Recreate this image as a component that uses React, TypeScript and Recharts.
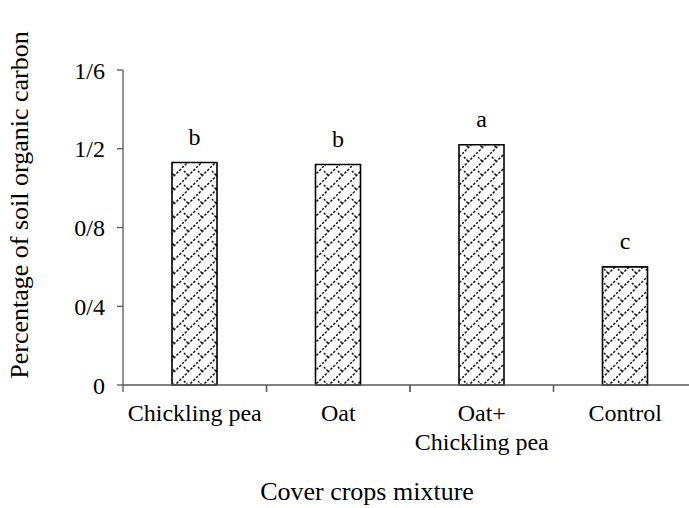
import React from "react";
import { BarChart, Bar, XAxis, YAxis, LabelList } from "recharts";

const categories = ["Chickling pea", "Oat", "Oat+\nChickling pea", "Control"];
const values = [1.13, 1.12, 1.22, 0.6];
const letters = ["b", "b", "a", "c"];
const yTicks = [0, 0.4, 0.8, 1.2, 1.6];
const yTickLabels = ["0", "0/4", "0/8", "1/2", "1/6"];
const yTitle = "Percentage of soil organic carbon";
const xTitle = "Cover crops mixture";

const data = categories.map((name, i) => ({ name, value: values[i], letter: letters[i] }));

const FONT = "'Liberation Serif', 'Times New Roman', serif";
const FS = 24;
const TITLE_FS = 26;
const CHART_W = 760;
const CHART_H = 508;
const Y_AXIS_W = 123;
const PLOT_W = 574;
const MARGIN = { top: 70, right: CHART_W - Y_AXIS_W - PLOT_W, bottom: 8, left: 0 };
const X_AXIS_H = 115;
const AXIS_COLOR = "#595959";
const BAND = PLOT_W / categories.length;

const XTick = (props: any) => {
  const { x, payload } = props;
  const axisY = CHART_H - MARGIN.bottom - X_AXIS_H;
  const lines = String(payload.value).split("\n");
  return (
    <g>
      <line x1={x - BAND / 2} x2={x - BAND / 2} y1={axisY} y2={axisY + 7} stroke={AXIS_COLOR} strokeWidth={1.3} />
      <line x1={x + BAND / 2} x2={x + BAND / 2} y1={axisY} y2={axisY + 7} stroke={AXIS_COLOR} strokeWidth={1.3} />
      {lines.map((l, i) => (
        <text key={i} x={x} y={axisY + 36 + i * 29} textAnchor="middle" fontFamily={FONT} fontSize={FS} fill="#000">
          {l}
        </text>
      ))}
    </g>
  );
};

const YLabel = () => (
  <text
    x={28}
    y={205}
    transform="rotate(-90 28 205)"
    textAnchor="middle"
    fontFamily={FONT}
    fontSize={TITLE_FS}
    fill="#000"
  >
    {yTitle}
  </text>
);

const XLabel = () => (
  <text x={367} y={500} textAnchor="middle" fontFamily={FONT} fontSize={TITLE_FS} fill="#000">
    {xTitle}
  </text>
);

export default function App() {
  return (
    <div style={{ position: "absolute", left: 0, top: 0, width: 689, height: 508, overflow: "hidden", background: "#fff" }}>
      <BarChart width={CHART_W} height={CHART_H} data={data} margin={MARGIN}>
        <defs>
          <pattern id="hatch" patternUnits="userSpaceOnUse" width={14} height={14}>
            <rect width={14} height={14} fill="#fff" />
            <path d="M0,14 L14,0" stroke="#000" strokeWidth={1.4} strokeDasharray="2.5,1.5" />
            <path d="M2,3 L6,7" stroke="#000" strokeWidth={1.4} strokeDasharray="2,1.5" />
          </pattern>
        </defs>
        <XAxis
          dataKey="name"
          height={X_AXIS_H}
          interval={0}
          tickLine={false}
          axisLine={{ stroke: AXIS_COLOR, strokeWidth: 1.3 }}
          tick={<XTick />}
          label={<XLabel />}
        />
        <YAxis
          width={Y_AXIS_W}
          domain={[0, 1.6]}
          ticks={yTicks}
          interval={0}
          tickFormatter={(v: number) => yTickLabels[yTicks.indexOf(v)] ?? String(v)}
          tick={{ fill: "#000", fontSize: FS, fontFamily: FONT }}
          tickSize={6}
          tickMargin={12}
          axisLine={{ stroke: AXIS_COLOR, strokeWidth: 1.3 }}
          tickLine={{ stroke: AXIS_COLOR, strokeWidth: 1.3 }}
          label={<YLabel />}
        />
        <Bar dataKey="value" barSize={45} fill="url(#hatch)" stroke="#000" strokeWidth={1.6} isAnimationActive={false}>
          <LabelList dataKey="letter" position="top" offset={18} fill="#000" fontSize={FS} fontFamily={FONT} />
        </Bar>
      </BarChart>
    </div>
  );
}
